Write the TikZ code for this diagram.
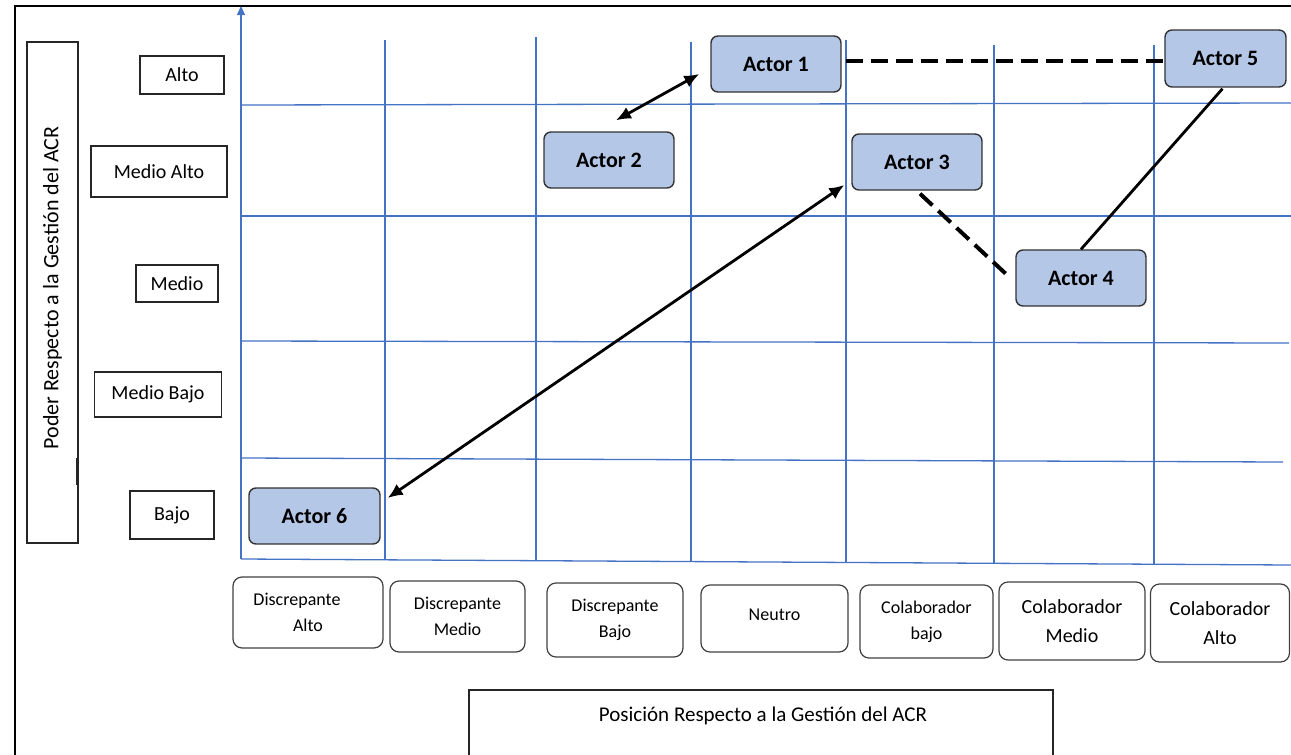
\documentclass[tikz,border=0pt]{standalone}
\usepackage{fontspec}
\setmainfont{Carlito}
\usetikzlibrary{arrows.meta,calc}
\definecolor{gridblue}{HTML}{4472C4}
\definecolor{actorfill}{HTML}{B4C7E7}
\tikzset{
  actor/.style={draw=black!80, fill=actorfill, rounded corners=7pt, line width=1.4pt,
    font=\fontsize{22}{26}\selectfont\bfseries, minimum width=130pt, minimum height=56pt, inner sep=0pt},
  lvl/.style={draw=black!85, line width=1.2pt, font=\fontsize{20}{24}\selectfont, inner sep=0pt},
  cat/.style={draw=black!75, rounded corners=9pt, line width=1.2pt, align=center,
    font=\fontsize{18}{26}\selectfont, inner sep=0pt},
  catbig/.style={cat, font=\fontsize{20}{29}\selectfont},
  gline/.style={draw=gridblue, line width=1.3pt},
  conn/.style={line width=2.8pt, black},
  dconn/.style={line width=4pt, black, dash pattern=on 17pt off 8pt},
  biarrow/.style={conn, {Latex[length=15pt,width=13pt]}-{Latex[length=15pt,width=13pt]}}
}
\begin{document}
\begin{tikzpicture}[x=1pt,y=-1pt]
\useasboundingbox (0,0) rectangle (1291,755);
% outer frame
\draw[line width=2.6pt] (15,757) -- (15,6) -- (1293,6);
% grid
\draw[gline] (241,105) -- (1291,103);
\draw[gline] (241,216) -- (1291,216);
\draw[gline] (241,341) -- (1289,343);
\draw[gline] (241,458) -- (1283,462);
\draw[gline] (241,559) -- (1291,565);
\draw[gline] (385,40) -- (385,560);
\draw[gline] (536,37) -- (536,561);
\draw[gline] (691,42) -- (691,562);
\draw[gline] (846,40) -- (846,562);
\draw[gline] (994,45) -- (994,563);
\draw[gline] (1154,45) -- (1154,564);
\draw[gline, -{Triangle[length=9pt,width=8pt]}] (241,559) -- (241,6);
% vertical axis title
\node (poderbox) [draw=black!85, line width=1.2pt, minimum width=51pt, minimum height=501pt, inner sep=0pt] at (52.5,292.5) {};
\node (podertext) [rotate=90, font=\fontsize{22}{26}\selectfont] at (52.5,288) {Poder Respecto a la Gestión del ACR};
\draw[line width=2.4pt, black!85] (77,458) -- (77,485);
% level labels
\node (alto) [lvl, minimum width=84pt, minimum height=38pt] at (182,75) {Alto};
\node (medioalto) [lvl, minimum width=136pt, minimum height=51pt] at (159,171.5) {Medio Alto};
\node (medio) [lvl, minimum width=82pt, minimum height=37pt] at (177,283.5) {Medio};
\node (mediobajo) [lvl, minimum width=127pt, minimum height=45pt] at (158,394.5) {Medio Bajo};
\node (bajo) [lvl, minimum width=84pt, minimum height=48pt] at (172,515) {Bajo};
% actors
\node (a1) [actor] at (776,64) {Actor 1};
\node (a2) [actor] at (609,160) {Actor 2};
\node (a3) [actor] at (917,162) {Actor 3};
\node (a4) [actor] at (1081,278) {Actor 4};
\node (a5) [actor, minimum width=121pt, minimum height=57pt] at (1225.5,58.5) {Actor 5};
\node (a6) [actor, minimum width=131pt] at (314.5,516) {Actor 6};
% connectors
\draw[biarrow] ($(a2.north)+(7,-11)$) -- ($(a1.west)+(-11,10)$);
\draw[biarrow] ($(a6.east)+(7,-18)$) -- ($(a3.west)+(-7,23)$);
\coordinate (d1) at ($(a1.east)+(4,-3)$);
\draw[dconn] (d1) -- (d1 -| a5.west);
\draw[dconn] ($(a3.south)+(3,3)$) -- ($(a4.west)+(-5,0)$);
\draw[conn] ($(a5.south)+(-3,1)$) -- (a4.north);
% categories
\node (c1) [cat, minimum width=150pt, minimum height=71pt] at (308,612.5) {Discrepante\hspace*{22pt}\\Alto};
\node (c2) [cat, minimum width=135pt, minimum height=71pt] at (457.5,616.5) {Discrepante\\Medio};
\node (c3) [cat, minimum width=136pt, minimum height=74pt] at (615,620) {Discrepante\\Bajo};
\node (c4) [cat, minimum width=147pt, minimum height=67pt] at (774.5,618.5) {\raisebox{7pt}{Neutro}};
\node (c5) [cat, minimum width=133pt, minimum height=73pt] at (926.5,621.5) {Colaborador\\bajo};
\node (c6) [catbig, minimum width=146pt, minimum height=78pt] at (1072,621) {Colaborador\\Medio};
\node (c7) [catbig, minimum width=139pt, minimum height=78pt] at (1220,623) {Colaborador\\Alto};
% horizontal axis title
\node (posbox) [draw=black!85, line width=1.2pt, minimum width=584pt, minimum height=67pt, inner sep=0pt] at (761,723.5) {};
\node (postext) [font=\fontsize{21}{25}\selectfont] at (763,716) {Posición Respecto a la Gestión del ACR};
\end{tikzpicture}
\end{document}
